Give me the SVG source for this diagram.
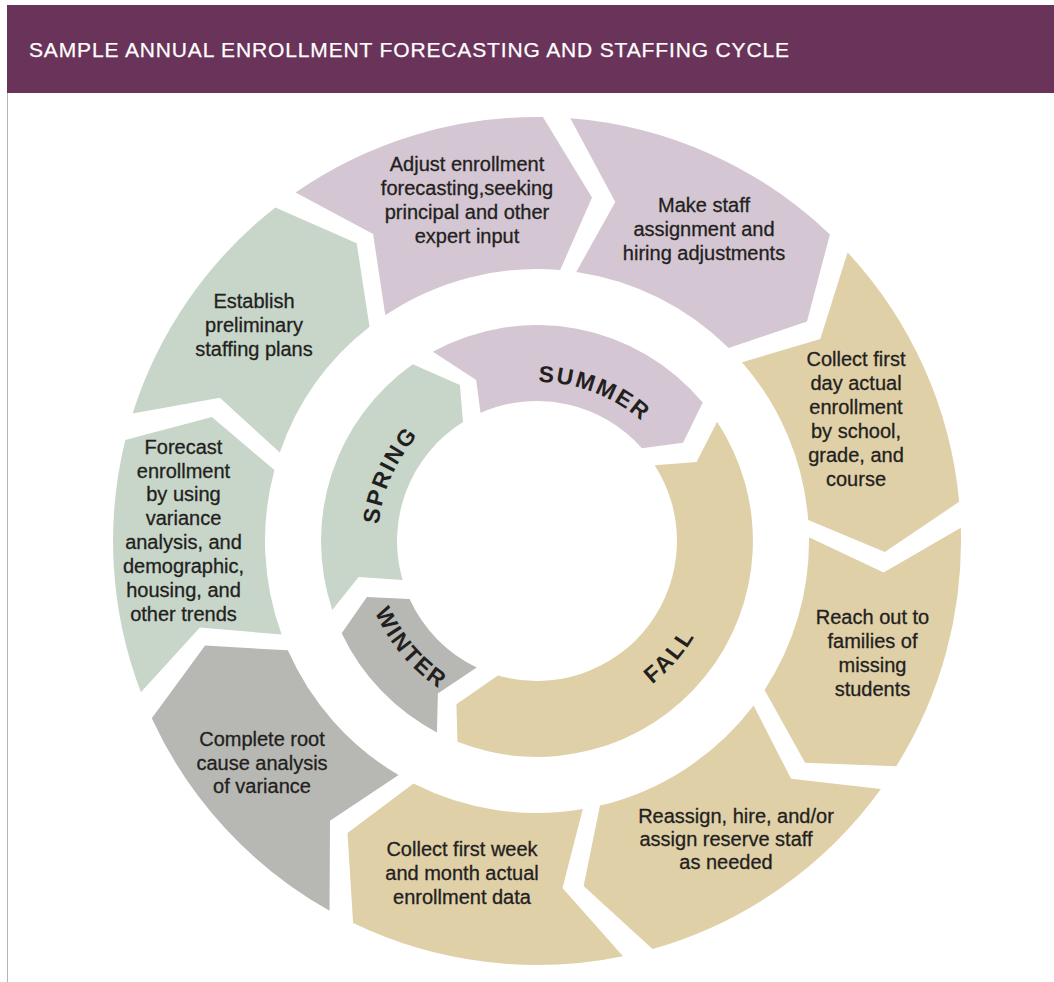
<svg xmlns="http://www.w3.org/2000/svg" width="1054" height="982" viewBox="0 0 1054 982">
<style>
.t{font-family:"Liberation Sans",Arial,sans-serif;font-size:20px;fill:#231F20;stroke:#231F20;stroke-width:0.3px;text-anchor:middle}
.s{font-family:"Liberation Sans",Arial,sans-serif;font-size:23px;font-weight:bold;fill:#231F20;text-anchor:middle;letter-spacing:2px}
.pu{fill:#D4C6D2}.gr{fill:#C7D6C9}.go{fill:#E0D0A8}.gy{fill:#B7B8B3}
</style>
<defs>
<path id="cw" d="M 537 700 A 159 159 0 1 1 537 382 A 159 159 0 1 1 537 700"/>
<path id="ccwW" d="M 537 364 A 177 177 0 1 0 537 718 A 177 177 0 1 0 537 364"/>
<path id="ccwF" d="M 537 357 A 184 184 0 1 0 537 725 A 184 184 0 1 0 537 357"/>
</defs>
<rect width="1054" height="982" fill="#FFFFFF"/>
<g id="header">
<rect x="7" y="5" width="1047" height="88" fill="#6A3359"/>
<line x1="7.5" y1="93" x2="7.5" y2="982" stroke="#B5B5B5" stroke-width="1"/>
<text x="29" y="57" font-family="Liberation Sans, Arial, sans-serif" font-size="21" fill="#FFFFFF" stroke="#FFFFFF" stroke-width="0.25" textLength="760" lengthAdjust="spacing">SAMPLE ANNUAL ENROLLMENT FORECASTING AND STAFFING CYCLE</text>
</g>
<g id="connectors"/>
<g id="adjust">
<path class="pu" d="M 295.6 192.4 A 424 424 0 0 1 542.9 117 L 592 197.4 L 560.2 270 A 272 272 0 0 0 385.3 315.2 L 373.1 234 Z"/>
<text class="t" x="467" y="171">Adjust enrollment</text>
<text class="t" x="467" y="195">forecasting,seeking</text>
<text class="t" x="467" y="219">principal and other</text>
<text class="t" x="467" y="243">expert input</text>
</g>
<g id="make-staff">
<path class="pu" d="M 570.3 118.3 A 424 424 0 0 1 829.9 234.4 L 807 321.5 L 728.7 348 A 272 272 0 0 0 576.3 271.9 L 615.3 201.9 Z"/>
<text class="t" x="704" y="212">Make staff</text>
<text class="t" x="704" y="236">assignment and</text>
<text class="t" x="704" y="260">hiring adjustments</text>
</g>
<g id="collect-first-day">
<path class="go" d="M 847.6 252.4 A 424 424 0 0 1 959.2 501.8 L 884.8 551.9 L 808.2 520.1 A 272 272 0 0 0 742 362.2 L 820.3 338.9 Z"/>
<text class="t" x="856" y="366">Collect first</text>
<text class="t" x="856" y="390">day actual</text>
<text class="t" x="856" y="414">enrollment</text>
<text class="t" x="856" y="438">by school,</text>
<text class="t" x="856" y="462">grade, and</text>
<text class="t" x="856" y="486">course</text>
</g>
<g id="reach-out">
<path class="go" d="M 960.8 527.7 A 424 424 0 0 1 896.2 766.3 L 805.1 762.8 L 764.6 689.9 A 272 272 0 0 0 809 537.2 L 883.6 572.5 Z"/>
<text class="t" x="872.5" y="624">Reach out to</text>
<text class="t" x="872.5" y="648">families of</text>
<text class="t" x="872.5" y="672">missing</text>
<text class="t" x="872.5" y="696">students</text>
</g>
<g id="reassign">
<path class="go" d="M 880.9 789 A 424 424 0 0 1 652.5 949 L 583.6 885.9 L 600 805.6 A 272 272 0 0 0 753.6 705.5 L 791.1 778.8 Z"/>
<text class="t" x="736" y="823">Reassign, hire, and/or</text>
<text class="t" x="726" y="846">assign reserve staff</text>
<text class="t" x="726" y="869">as needed</text>
</g>
<g id="collect-first-week">
<path class="go" d="M 623 956.2 A 424 424 0 0 1 353.1 923.1 L 347.5 832.9 L 413.5 783.4 A 272 272 0 0 0 582.8 809.1 L 562.5 888.1 Z"/>
<text class="t" x="462" y="856">Collect first week</text>
<text class="t" x="462" y="880">and month actual</text>
<text class="t" x="462" y="904">enrollment data</text>
</g>
<g id="complete-root">
<path class="gy" d="M 329.5 910.8 A 424 424 0 0 1 151.8 718.2 L 205.1 645.6 L 287.9 650.3 A 272 272 0 0 0 398.6 775.1 L 330 820.8 Z"/>
<text class="t" x="262" y="746">Complete root</text>
<text class="t" x="262" y="770">cause analysis</text>
<text class="t" x="262" y="793">of variance</text>
</g>
<g id="forecast">
<path class="gr" d="M 140.9 692.2 A 424 424 0 0 1 125.3 439.9 L 211.9 416.9 L 274.4 470.1 A 272 272 0 0 0 281.6 634.5 L 199.9 627.5 Z"/>
<text class="t" x="183.5" y="454">Forecast</text>
<text class="t" x="183.5" y="478">enrollment</text>
<text class="t" x="183.5" y="501">by using</text>
<text class="t" x="183.5" y="525">variance</text>
<text class="t" x="183.5" y="549">analysis, and</text>
<text class="t" x="183.5" y="573">demographic,</text>
<text class="t" x="183.5" y="597">housing, and</text>
<text class="t" x="183.5" y="621">other trends</text>
</g>
<g id="establish">
<path class="gr" d="M 132.6 413.5 A 424 424 0 0 1 275.4 207.4 L 356.7 243.3 L 369.5 326.7 A 272 272 0 0 0 279.8 452.4 L 219.8 397.8 Z"/>
<text class="t" x="254" y="308">Establish</text>
<text class="t" x="254" y="332">preliminary</text>
<text class="t" x="254" y="356">staffing plans</text>
</g>
<g id="summer">
<path class="pu" d="M 432.9 351.7 A 216 216 0 0 1 702.7 402.5 L 683.1 442.8 L 641.9 448.2 A 140 140 0 0 0 480.5 412.9 L 476.2 380.1 Z"/>
<text class="s"><textPath href="#cw" startOffset="557.8">SUMMER</textPath></text>
</g>
<g id="fall">
<path class="go" d="M 717.1 421.8 A 216 216 0 0 1 457.5 741.8 L 456.4 704.2 L 497.9 675.4 A 140 140 0 0 0 654.7 465.2 L 696.6 462.1 Z"/>
<text class="s"><textPath href="#ccwF" startOffset="735.1">FALL</textPath></text>
</g>
<g id="winter">
<path class="gy" d="M 436.9 732.4 A 216 216 0 0 1 341.7 633.3 L 366.9 596.9 L 409.6 599.1 A 140 140 0 0 0 476.7 667.4 L 437.9 693.6 Z"/>
<text class="s"><textPath href="#ccwW" startOffset="402.2">WINTER</textPath></text>
</g>
<g id="spring">
<path class="gr" d="M 332.3 609.9 A 216 216 0 0 1 412.8 364.3 L 459.9 385 L 463 422.1 A 140 140 0 0 0 402.6 580.1 L 358.6 577 Z"/>
<text class="s"><textPath href="#cw" startOffset="316.4">SPRING</textPath></text>
</g>
</svg>
